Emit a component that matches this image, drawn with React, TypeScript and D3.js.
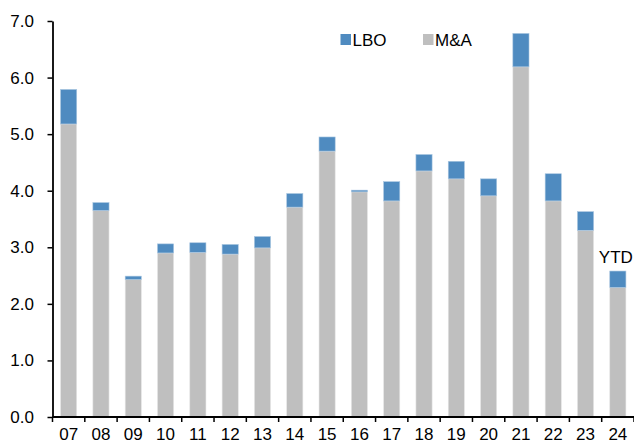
import { useEffect, useRef } from "react";
import * as d3 from "d3";

const years = ["07", "08", "09", "10", "11", "12", "13", "14", "15", "16", "17", "18", "19", "20", "21", "22", "23", "24"];
const mna = [5.18, 3.65, 2.43, 2.9, 2.91, 2.88, 2.99, 3.71, 4.7, 3.98, 3.82, 4.35, 4.21, 3.91, 6.19, 3.82, 3.3, 2.29];
const lbo = [0.61, 0.14, 0.06, 0.16, 0.17, 0.17, 0.2, 0.24, 0.25, 0.03, 0.34, 0.29, 0.31, 0.3, 0.59, 0.48, 0.33, 0.29];
const yTicks = [0, 1, 2, 3, 4, 5, 6, 7];

const GRAY = "#bfbfbf";
const BLUE = "#4f8bc0";
const FONT = "Liberation Sans, Arial, sans-serif";

export default function App() {
  const ref = useRef<SVGSVGElement>(null);

  useEffect(() => {
    if (!ref.current) return;
    const svg = d3.select(ref.current);
    svg.selectAll("*").remove();

    const width = 634;
    const height = 442;
    const margin = { top: 21, right: 0, bottom: 25, left: 52.5 };
    const innerWidth = width - margin.left - margin.right;
    const innerHeight = height - margin.top - margin.bottom;

    const g = svg.append("g").attr("transform", `translate(${margin.left},${margin.top})`);

    const x = d3.scaleBand().domain(years).range([0, innerWidth]).paddingInner(0.5).paddingOuter(0.25);
    const y = d3.scaleLinear().domain([0, 7]).range([innerHeight, 0]);

    const rows = years.map((yr, i) => ({ yr, mna: mna[i], lbo: lbo[i] }));

    // M&A base
    g.selectAll(".mna")
      .data(rows)
      .join("rect")
      .attr("x", (d) => x(d.yr) ?? 0)
      .attr("y", (d) => y(d.mna))
      .attr("width", x.bandwidth())
      .attr("height", (d) => innerHeight - y(d.mna))
      .attr("fill", GRAY)
      .attr("stroke", "#e6e6e6")
      .attr("stroke-width", 0.6);

    // LBO stacked on top
    g.selectAll(".lbo")
      .data(rows)
      .join("rect")
      .attr("x", (d) => x(d.yr) ?? 0)
      .attr("y", (d) => y(d.mna + d.lbo))
      .attr("width", x.bandwidth())
      .attr("height", (d) => y(d.mna) - y(d.mna + d.lbo))
      .attr("fill", BLUE)
      .attr("stroke", "#a9c6e0")
      .attr("stroke-width", 0.6);

    // y axis
    const yAxis = g
      .append("g")
      .call(d3.axisLeft(y).tickValues(yTicks).tickFormat(d3.format(".1f")).tickSize(5).tickSizeOuter(0));
    yAxis.select(".domain").attr("stroke", "#000").attr("stroke-width", 1.8);
    yAxis.selectAll("line").attr("stroke", "#000").attr("stroke-width", 1.5);
    yAxis
      .selectAll("text")
      .attr("font-family", FONT)
      .attr("font-size", "17px")
      .attr("fill", "#000")
      .attr("x", -18.5);

    // x axis: ticks sit between categories
    const xAxis = g.append("g").attr("transform", `translate(0,${innerHeight})`);
    xAxis
      .append("line")
      .attr("x1", 0)
      .attr("x2", innerWidth)
      .attr("stroke", "#000")
      .attr("stroke-width", 1.8);
    const step = x.step();
    const bounds = d3.range(years.length + 1).map((i) => i * step);
    xAxis
      .selectAll(".tk")
      .data(bounds)
      .join("line")
      .attr("x1", (d) => d)
      .attr("x2", (d) => d)
      .attr("y1", 0)
      .attr("y2", 5)
      .attr("stroke", "#000")
      .attr("stroke-width", 1.5);
    xAxis
      .selectAll(".lbl")
      .data(years)
      .join("text")
      .attr("x", (d) => (x(d) ?? 0) + x.bandwidth() / 2)
      .attr("y", 22.5)
      .attr("text-anchor", "middle")
      .attr("font-family", FONT)
      .attr("font-size", "17px")
      .attr("fill", "#000")
      .text((d) => d);

    // YTD label above the last bar
    const last = rows[rows.length - 1];
    g.append("text")
      .attr("x", (x(last.yr) ?? 0) + x.bandwidth() / 2 - 2)
      .attr("y", y(last.mna + last.lbo) - 8)
      .attr("text-anchor", "middle")
      .attr("font-family", FONT)
      .attr("font-size", "17px")
      .attr("fill", "#000")
      .text("YTD");

    // legend
    const legend = [
      { label: "LBO", color: BLUE, x: 340.5 },
      { label: "M&A", color: GRAY, x: 423 },
    ];
    const lg = svg.append("g");
    lg.selectAll("rect")
      .data(legend)
      .join("rect")
      .attr("x", (d) => d.x)
      .attr("y", 34)
      .attr("width", 10.5)
      .attr("height", 11)
      .attr("fill", (d) => d.color);
    lg.selectAll("text")
      .data(legend)
      .join("text")
      .attr("x", (d) => d.x + 12)
      .attr("y", 46)
      .attr("font-family", FONT)
      .attr("font-size", "17px")
      .attr("fill", "#000")
      .text((d) => d.label);
  }, []);

  return (
    <svg
      ref={ref}
      width={634}
      height={442}
      style={{ position: "absolute", left: 0, top: 0, display: "block", background: "#fff" }}
    />
  );
}
